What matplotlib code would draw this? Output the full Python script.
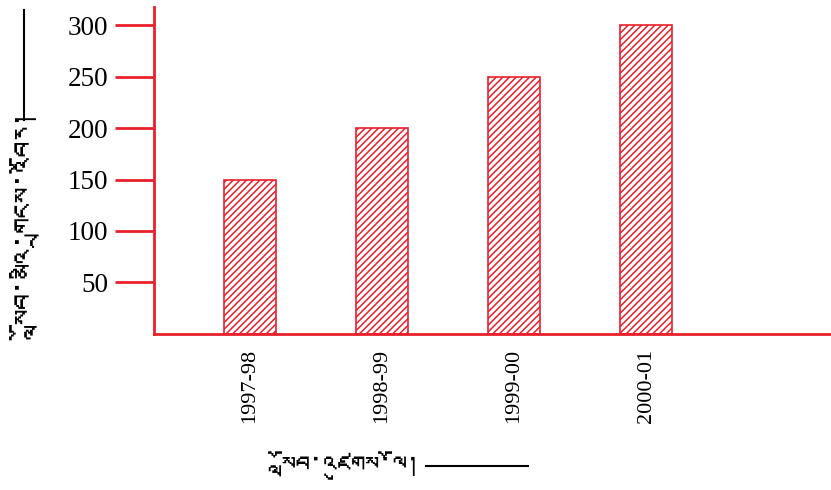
import matplotlib
matplotlib.use("Agg")
import matplotlib.pyplot as plt
from matplotlib import font_manager
from matplotlib.ft2font import FT2Font
from matplotlib.lines import Line2D
import numpy as np

years = ["1997-98", "1998-99", "1999-00", "2000-01"]
students = [150, 200, 250, 300]
yticks = [50, 100, 150, 200, 250, 300]
ylabel = "སློབ་མའི་གྲངས་འབོར།"
xlabel = "སློབ་འཛུགས་ལོ།"

red = "#e8202c"


def find_tibetan_font():
    # look for any installed font that has Tibetan glyphs
    for f in font_manager.fontManager.ttflist:
        try:
            cmap = FT2Font(f.fname).get_charmap()
        except Exception:
            continue
        if 0x0F40 in cmap and 0x0F0B in cmap:
            return f.name
    return None


tib = find_tibetan_font()
tib_family = [tib, "DejaVu Sans"] if tib else ["DejaVu Sans"]

plt.rcParams["font.family"] = ["Liberation Serif", "DejaVu Serif"]
plt.rcParams["hatch.linewidth"] = 1.1

fig = plt.figure(figsize=(8.31, 4.90), dpi=100)
ax = fig.add_axes([0.1853, 0.3184, 0.8147, 0.6673])

x = np.arange(len(years))
ax.bar(x, students, width=0.39, facecolor="white", edgecolor=red,
       hatch="/////", linewidth=1.2)

ax.set_xlim(-0.727, 4.40)
ax.set_ylim(0, 317.5)
ax.set_xticks(x)
ax.set_xticklabels(years, rotation=90, fontsize=16)
ax.set_yticks(yticks)
ax.set_yticklabels([str(v) for v in yticks], fontsize=19.5)
ax.tick_params(axis="x", length=0, pad=11)
ax.tick_params(axis="y", length=28, width=2, color=red, pad=5)

for s in ["top", "right"]:
    ax.spines[s].set_visible(False)
for s in ["left", "bottom"]:
    ax.spines[s].set_color(red)
    ax.spines[s].set_linewidth(2)

# axis titles with the trailing rule, as in the printed original
fig.text(42 / 831, 1 - 126 / 490, ylabel, rotation=90, ha="center",
         va="top", fontsize=22, family=tib_family)
fig.add_artist(Line2D([24 / 831, 24 / 831], [1 - 10 / 490, 1 - 120 / 490],
                      color="black", lw=1.5))
fig.text(421 / 831, 1 - 466 / 490, xlabel, ha="right", va="center",
         fontsize=20, family=tib_family)
fig.add_artist(Line2D([426 / 831, 528 / 831], [1 - 466 / 490, 1 - 466 / 490],
                      color="black", lw=1.5))

fig.savefig("out.png", dpi=100)
